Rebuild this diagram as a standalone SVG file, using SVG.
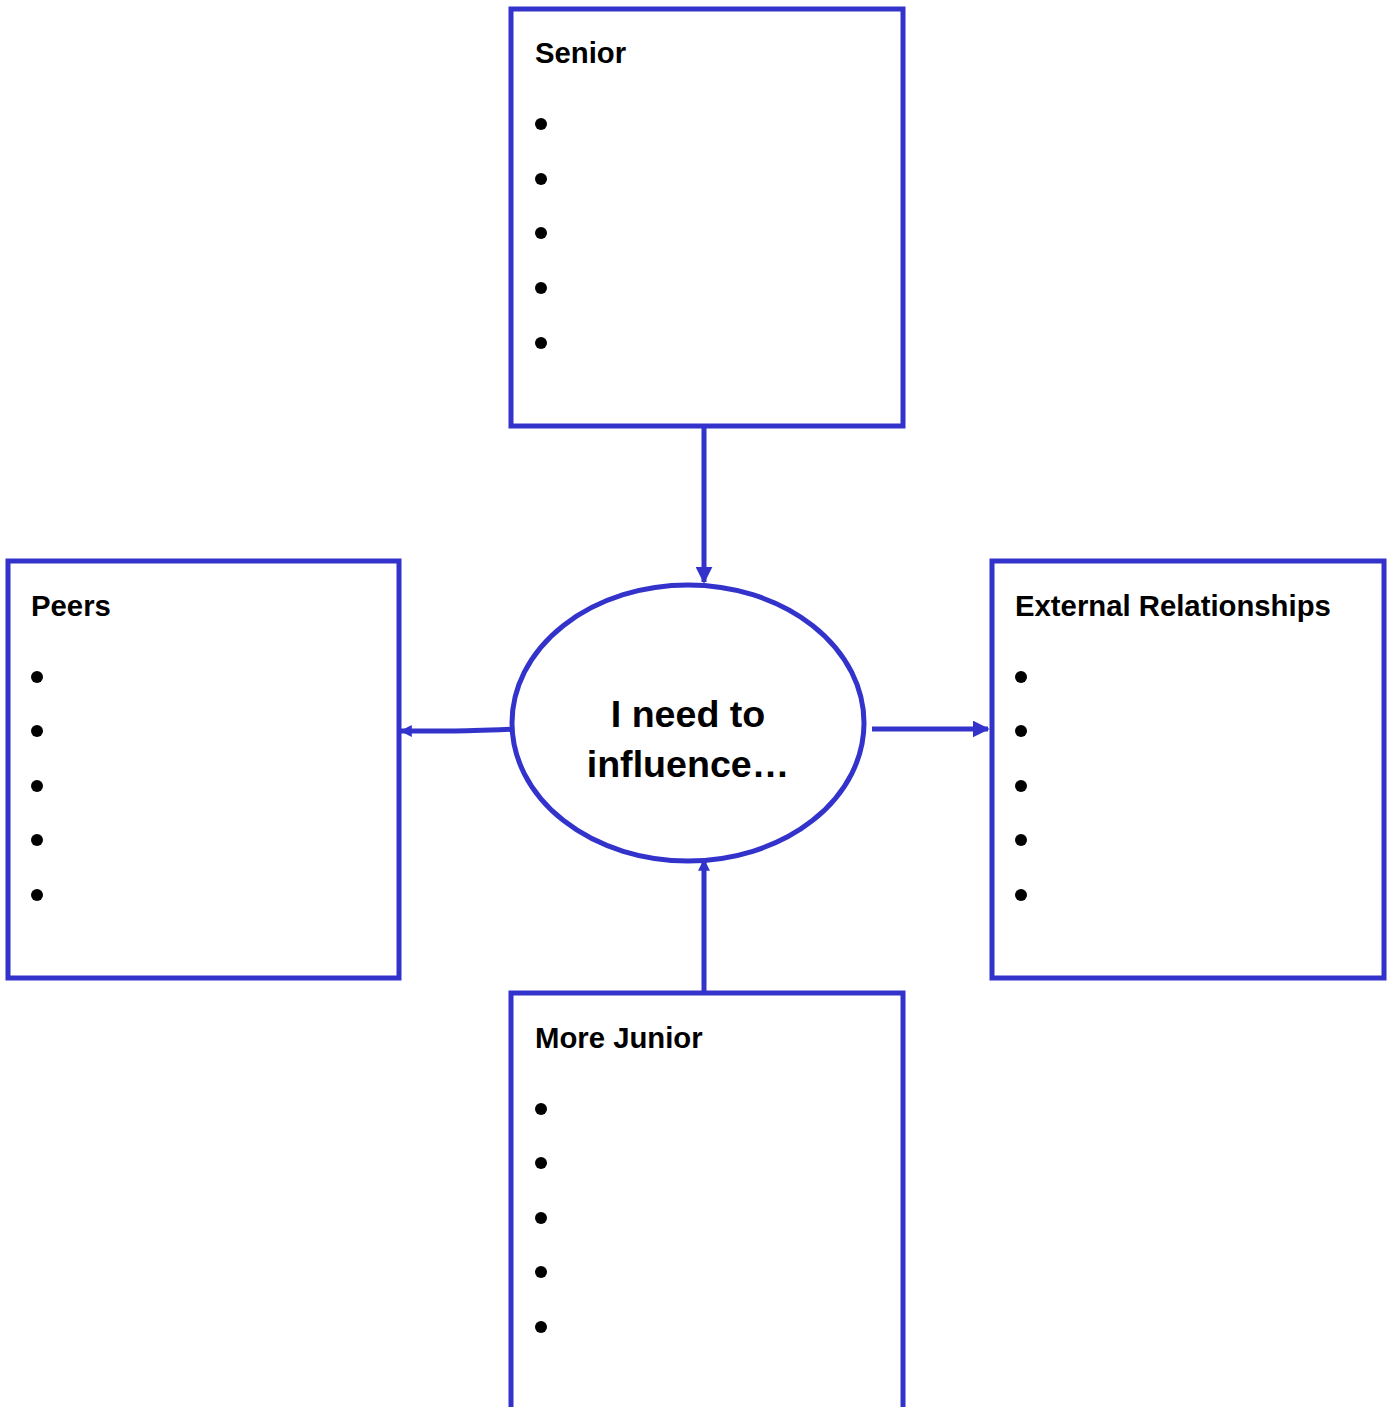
<svg xmlns="http://www.w3.org/2000/svg" width="1392" height="1407" viewBox="0 0 1392 1407">
<style>
.box{fill:#fff;stroke:#3333CC;stroke-width:5}
.title{font-family:"Liberation Sans",Arial,sans-serif;font-weight:bold;font-size:29.3px;fill:#000}
.center{font-family:"Liberation Sans",Arial,sans-serif;font-weight:bold;font-size:37.6px;fill:#000;text-anchor:middle}
.conn{fill:none;stroke:#3333CC;stroke-width:5}
.b{fill:#000}
</style>
<defs>
<marker id="ah" viewBox="0 0 10 10" refX="9" refY="5" markerWidth="3.4" markerHeight="3.4" orient="auto" markerUnits="strokeWidth">
<path d="M0,0 L10,5 L0,10 z" fill="#3333CC"/>
</marker>
<marker id="ahs" viewBox="0 0 10 10" refX="9" refY="5" markerWidth="2.4" markerHeight="3" orient="auto" markerUnits="strokeWidth">
<path d="M0,0 L10,5 L0,10 z" fill="#3333CC"/>
</marker>
</defs>
<rect width="1392" height="1407" fill="#fff"/>
<g id="connectors">
<path class="conn" d="M704,426 L704,582" marker-end="url(#ah)"/>
<path class="conn" d="M518,729 Q470,731 450,731 L401,731" marker-end="url(#ahs)"/>
<path class="conn" d="M872,729 L988,729" marker-end="url(#ah)"/>
<path class="conn" d="M704,993 L704,860" marker-end="url(#ahs)"/>
</g>
<g id="senior">
<rect class="box" x="511" y="9" width="392" height="417"/>
<text class="title" x="535" y="63">Senior</text>
<circle class="b" cx="541" cy="124" r="6"/><circle class="b" cx="541" cy="179" r="6"/><circle class="b" cx="541" cy="233" r="6"/><circle class="b" cx="541" cy="288" r="6"/><circle class="b" cx="541" cy="343" r="6"/>
</g>
<g id="peers">
<rect class="box" x="8" y="561" width="391" height="417"/>
<text class="title" x="31" y="616">Peers</text>
<circle class="b" cx="37" cy="677" r="6"/><circle class="b" cx="37" cy="731" r="6"/><circle class="b" cx="37" cy="786" r="6"/><circle class="b" cx="37" cy="840" r="6"/><circle class="b" cx="37" cy="895" r="6"/>
</g>
<g id="external">
<rect class="box" x="992" y="561" width="392" height="417"/>
<text class="title" x="1015" y="616">External Relationships</text>
<circle class="b" cx="1021" cy="677" r="6"/><circle class="b" cx="1021" cy="731" r="6"/><circle class="b" cx="1021" cy="786" r="6"/><circle class="b" cx="1021" cy="840" r="6"/><circle class="b" cx="1021" cy="895" r="6"/>
</g>
<g id="junior">
<rect class="box" x="511" y="993" width="392" height="430"/>
<text class="title" x="535" y="1048">More Junior</text>
<circle class="b" cx="541" cy="1109" r="6"/><circle class="b" cx="541" cy="1163" r="6"/><circle class="b" cx="541" cy="1218" r="6"/><circle class="b" cx="541" cy="1272" r="6"/><circle class="b" cx="541" cy="1327" r="6"/>
</g>
<g id="center">
<ellipse class="box" cx="688" cy="723" rx="176" ry="138"/>
<text class="center" x="688" y="727">I need to</text>
<text class="center" x="688" y="777">influence…</text>
</g>
</svg>
